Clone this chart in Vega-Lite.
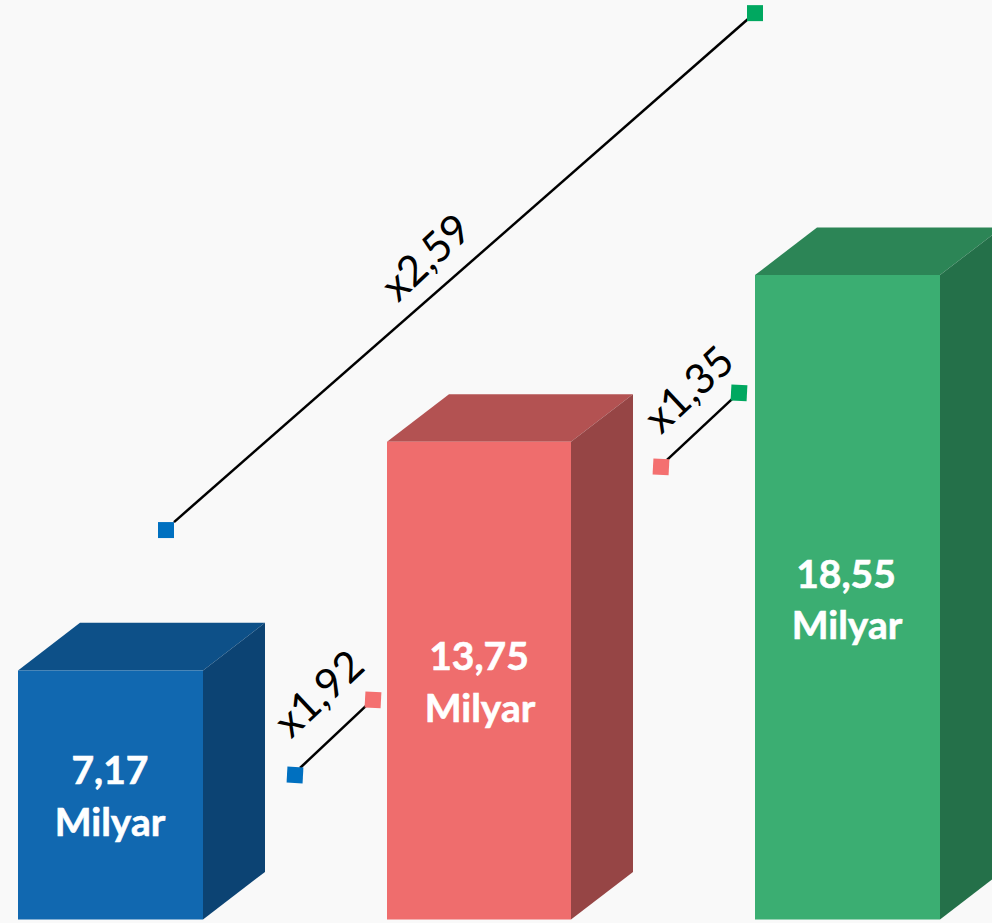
{
"$schema":"https://vega.github.io/schema/vega-lite/v6.json",
"width":992,"height":923,"padding":0,
"autosize":{"type":"fit","contains":"padding"},
"background":"#f9f9f9",
"config":{"view":{"stroke":null}},
"datasets":{
"fronts":[
{"part":"blue front","x0":18,"x1":203,"value":7.17},
{"part":"red front","x0":387,"x1":571,"value":13.75},
{"part":"green front","x0":755,"x1":940,"value":18.55}],
"faces":[
{"part":"blue top","x":18,"lo":7.17,"hi":7.17},
{"part":"blue top","x":80,"lo":7.17,"hi":8.54},
{"part":"blue top","x":203,"lo":7.17,"hi":8.54},
{"part":"blue top","x":265,"lo":8.54,"hi":8.54},
{"part":"blue side","x":203,"lo":0,"hi":7.17},
{"part":"blue side","x":265,"lo":1.37,"hi":8.54},
{"part":"red top","x":387,"lo":13.75,"hi":13.75},
{"part":"red top","x":449,"lo":13.75,"hi":15.12},
{"part":"red top","x":571,"lo":13.75,"hi":15.12},
{"part":"red top","x":633,"lo":15.12,"hi":15.12},
{"part":"red side","x":571,"lo":0,"hi":13.75},
{"part":"red side","x":633,"lo":1.37,"hi":15.12},
{"part":"green top","x":755,"lo":18.55,"hi":18.55},
{"part":"green top","x":817,"lo":18.55,"hi":19.92},
{"part":"green top","x":940,"lo":18.55,"hi":19.92},
{"part":"green top","x":1002,"lo":19.92,"hi":19.92},
{"part":"green side","x":940,"lo":0,"hi":18.55},
{"part":"green side","x":1002,"lo":1.37,"hi":19.92}],
"links":[
{"ratio":"x2,59","x0":174,"v0":11.44,"x1":748,"v1":25.92},
{"ratio":"x1,92","x0":300,"v0":4.36,"x1":366,"v1":6.15},
{"ratio":"x1,35","x0":667,"v0":13.23,"x1":732,"v1":14.98}],
"markers":[
{"part":"blue marker","x":166,"v":11.21,"tilt":0},
{"part":"green marker","x":755,"v":26.09,"tilt":0},
{"part":"blue marker","x":295,"v":4.16,"tilt":3},
{"part":"red marker","x":373,"v":6.32,"tilt":3},
{"part":"red marker","x":661,"v":13.03,"tilt":3},
{"part":"green marker","x":739,"v":15.16,"tilt":3}],
"values":[
{"label":"7,17","x":110,"v":4.24},
{"label":"Milyar","x":110,"v":2.75},
{"label":"13,75","x":479,"v":7.52},
{"label":"Milyar","x":480,"v":6.03},
{"label":"18,55","x":846,"v":9.9},
{"label":"Milyar","x":847,"v":8.42}],
"ratios":[
{"label":"x1,92","x":320,"v":6.47},
{"label":"x1,35","x":690,"v":15.23},
{"label":"x2,59","x":427,"v":19.03}]
},
"data":{"name":"fronts"},
"layer":[
{"data":{"name":"faces"},"mark":{"type":"area","clip":true,"interpolate":"linear"},
"encoding":{
"x":{"field":"x","type":"quantitative","scale":{"domain":[0,992],"nice":false,"zero":false},"axis":null},
"y":{"field":"lo","type":"quantitative","scale":{"domain":[-0.101,26.468],"nice":false,"zero":false},"axis":null},
"y2":{"field":"hi"},
"color":{"field":"part","type":"nominal","legend":null,"scale":{"domain":["blue front","blue top","blue side","blue marker","red front","red top","red side","red marker","green front","green top","green side","green marker"],"range":["#1168b0","#0d5088","#0c4373","#0070c0","#ef6d6d","#b35252","#964545","#f47070","#3bae72","#2c8556","#247049","#00a860"]}},
"detail":{"field":"part"}}},
{"data":{"name":"fronts"},"mark":{"type":"rect","clip":true},
"encoding":{
"x":{"field":"x0","type":"quantitative"},
"x2":{"field":"x1"},
"y":{"field":"value","type":"quantitative"},
"y2":{"datum":0},
"color":{"field":"part","type":"nominal","legend":null}}},
{"data":{"name":"links"},"mark":{"type":"rule","color":"#000000","strokeWidth":2.5},
"encoding":{
"x":{"field":"x0","type":"quantitative"},
"x2":{"field":"x1"},
"y":{"field":"v0","type":"quantitative"},
"y2":{"field":"v1"}}},
{"data":{"name":"markers"},"mark":{"type":"point","shape":"square","filled":true,"size":256,"opacity":1},
"encoding":{
"x":{"field":"x","type":"quantitative"},
"y":{"field":"v","type":"quantitative"},
"angle":{"field":"tilt","type":"quantitative","scale":null},
"color":{"field":"part","type":"nominal","legend":null}}},
{"data":{"name":"values"},"mark":{"type":"text","font":"Lato","fontWeight":"bold","fontSize":39,"stroke":"#ffffff","strokeWidth":0.6,"color":"#ffffff","align":"center","baseline":"middle"},
"encoding":{
"x":{"field":"x","type":"quantitative"},
"y":{"field":"v","type":"quantitative"},
"text":{"field":"label","type":"nominal"}}},
{"data":{"name":"ratios"},"mark":{"type":"text","font":"Lato","fontSize":42,"angle":317,"color":"#000000","align":"center","baseline":"middle"},
"encoding":{
"x":{"field":"x","type":"quantitative"},
"y":{"field":"v","type":"quantitative"},
"text":{"field":"label","type":"nominal"}}}
]
}
